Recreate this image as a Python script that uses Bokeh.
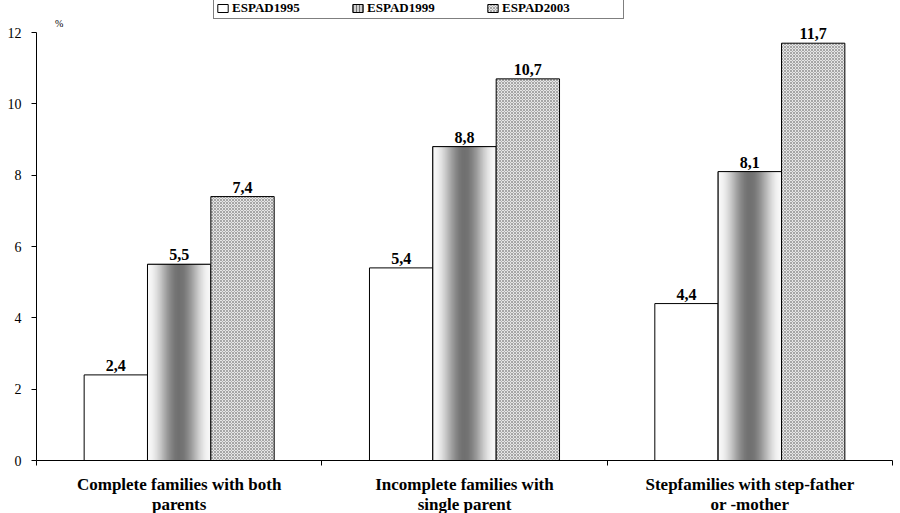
import numpy as np
from bokeh.plotting import figure
from bokeh.models import (ColumnDataSource, FixedTicker, Legend, LegendItem, LabelSet, Label, Range1d)
from bokeh.embed import file_html
from bokeh.resources import INLINE

categories = ["Complete families with both\nparents",
              "Incomplete families with\nsingle parent",
              "Stepfamilies with step-father\nor -mother"]
series = ["ESPAD1995", "ESPAD1999", "ESPAD2003"]
v1995 = [2.4, 5.4, 4.4]
v1999 = [5.5, 8.8, 8.1]
v2003 = [7.4, 10.7, 11.7]
y_ticks = [0, 2, 4, 6, 8, 10, 12]

FONT = "Liberation Serif"
centers = [i + 0.5 for i in range(len(categories))]
bw = 0.222
offsets = [-bw, 0.0, bw]

FRAME_H = 460
Y_TOP = 12 + 32 / (428 / 12)   # frame reaches above the 12 tick so the legend fits

p = figure(frame_width=856, frame_height=FRAME_H, output_backend="svg", toolbar_location=None,
           x_range=Range1d(0, 3), y_range=Range1d(0, Y_TOP),
           min_border_left=36, min_border_right=2, min_border_top=0, min_border_bottom=40)
p.outline_line_color = None
p.xgrid.visible = False
p.ygrid.visible = False
p.background_fill_color = "white"

# 1995 bars: white
src95 = ColumnDataSource(dict(x=[c + offsets[0] for c in centers], top=v1995))
r95 = p.vbar(x="x", top="top", width=bw, bottom=0, source=src95,
             fill_color="white", line_color="black", line_width=1)

# 1999 bars: base (used for legend swatch), then gradient strips, then outline
src99 = ColumnDataSource(dict(x=[c + offsets[1] for c in centers], top=v1999))
r99 = p.vbar(x="x", top="top", width=bw, bottom=0, source=src99,
             fill_color="#d0d0d0", line_color="black", line_width=1,
             hatch_pattern="vertical_line", hatch_color="#707070",
             hatch_scale=3, hatch_weight=1)
N = 60
lefts, rights, tops, colors = [], [], [], []
for c, v in zip(centers, v1999):
    x0 = c + offsets[1] - bw / 2
    for k in range(N):
        t = (k + 0.5) / N
        lvl = int(round(248 - 135 * (0.5 + 0.5 * np.cos(2 * np.pi * (t - 0.5)))))
        lefts.append(x0 + k * bw / N)
        rights.append(min(x0 + (k + 2) * bw / N, x0 + bw))
        tops.append(v)
        colors.append("#%02x%02x%02x" % (lvl, lvl, lvl))
p.quad(left=lefts, right=rights, top=tops, bottom=0, fill_color=colors, line_color=None)
p.vbar(x="x", top="top", width=bw, bottom=0, source=src99,
       fill_color=None, line_color="black", line_width=1)

# 2003 bars: fine checker grey
src03 = ColumnDataSource(dict(x=[c + offsets[2] for c in centers], top=v2003))
r03 = p.vbar(x="x", top="top", width=bw, bottom=0, source=src03,
             fill_color="#e6e6e6", line_color="black", line_width=1,
             hatch_pattern="diagonal_cross", hatch_color="#8a8a8a", hatch_scale=3,
             hatch_weight=0.7)

# value labels
lx, ly, lt = [], [], []
for vals, off in zip([v1995, v1999, v2003], offsets):
    for c, v in zip(centers, vals):
        lx.append(c + off)
        ly.append(v)
        lt.append(("%.1f" % v).replace(".", ","))
lab_src = ColumnDataSource(dict(x=lx, y=ly, t=lt))
p.add_layout(LabelSet(x="x", y="y", text="t", source=lab_src, y_offset=4,
                      text_align="center", text_baseline="bottom",
                      text_font=FONT, text_font_size="16px", text_font_style="bold",
                      text_color="black"))

# axes
p.yaxis.ticker = FixedTicker(ticks=y_ticks)
p.yaxis.bounds = (0, 12)
p.yaxis.axis_line_color = "black"
p.yaxis.major_tick_out = 5
p.yaxis.major_tick_in = 0
p.yaxis.minor_tick_line_color = None
p.yaxis.major_label_standoff = 10
p.yaxis.major_label_text_font = FONT
p.yaxis.major_label_text_font_size = "14px"
p.yaxis.major_label_text_color = "black"

p.xaxis.ticker = FixedTicker(ticks=centers, minor_ticks=[0, 1, 2, 3])
p.xaxis.major_label_overrides = {c: lab for c, lab in zip(centers, categories)}
p.xaxis.major_tick_line_color = None
p.xaxis.minor_tick_out = 5
p.xaxis.minor_tick_in = 0
p.xaxis.minor_tick_line_color = "black"
p.xaxis.axis_line_color = "black"
p.xaxis.major_label_standoff = 8
p.xaxis.major_label_text_font = FONT
p.xaxis.major_label_text_font_size = "17px"
p.xaxis.major_label_text_font_style = "bold"
p.xaxis.major_label_text_color = "black"
p.xaxis.major_label_text_line_height = 1.1

# percent sign
p.add_layout(Label(x=0.065, y=12, y_offset=4, text="%", text_baseline="bottom",
                   text_font=FONT, text_font_size="10px", text_color="black"))

legend = Legend(items=[LegendItem(label=series[0], renderers=[r95]),
                       LegendItem(label=series[1], renderers=[r99]),
                       LegendItem(label=series[2], renderers=[r03])],
                orientation="horizontal", location=(177, FRAME_H - 19),
                border_line_color="black", border_line_width=1,
                background_fill_color="white", background_fill_alpha=1,
                padding=2, margin=0, spacing=0, label_standoff=3,
                glyph_width=13, glyph_height=10, label_height=10, label_width=119,
                label_text_font=FONT, label_text_font_size="13px",
                label_text_font_style="bold", label_text_color="black")
p.add_layout(legend, "center")

open("out.html", "w").write(file_html(p, INLINE))
